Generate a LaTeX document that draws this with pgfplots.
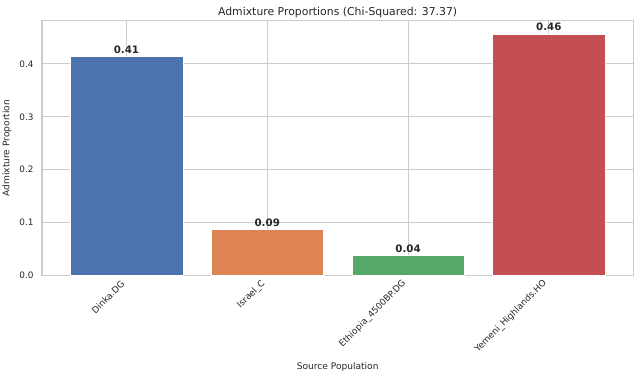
\documentclass[border=0pt]{standalone}
\usepackage{pgfplots}
\pgfplotsset{compat=1.18}
\usepackage{fontspec}
\setmainfont{DejaVu Sans}
\usetikzlibrary{calc}
\definecolor{cA}{HTML}{4C72B0}
\definecolor{cB}{HTML}{DD8452}
\definecolor{cC}{HTML}{55A868}
\definecolor{cD}{HTML}{C44E52}
\definecolor{gridc}{HTML}{CCCCCC}
\definecolor{txt}{HTML}{262626}
\begin{document}
\begin{tikzpicture}
\begin{axis}[
  scale only axis,
  width=591.3bp, height=254.8bp,
  xmin=-0.6, xmax=3.6,
  ymin=0, ymax=0.4817,
  xtick={0,1,2,3},
  xticklabels={Dinka.DG, Israel\_C, Ethiopia\_4500BP.DG, Yemeni\_Highlands.HO},
  ytick={0,0.1,0.2,0.3,0.4},
  grid=major,
  major grid style={gridc, line width=0.9bp},
  axis line style={gridc, line width=1.1bp},
  major tick length=0pt,
  tick style={draw=none},
  ticklabel style={text=txt, font=\fontsize{8.9}{10.4}\selectfont},
  /pgf/number format/assume math mode=true,
  yticklabel style={anchor=east, inner sep=0pt, xshift=-8.3bp,
    /pgf/number format/.cd, fixed, fixed zerofill, precision=1},
  xticklabel style={rotate=45, anchor=east, inner xsep=5bp, inner ysep=0pt},
  xticklabel shift=3.2bp,
  every axis title shift=0pt,
  title={Admixture Proportions (Chi-Squared: 37.37)},
  title style={at={(axis description cs:0.5,1)}, anchor=base, yshift=5.4bp, text=txt, font=\fontsize{10.9}{12.6}\selectfont},
  xlabel={Source Population},
  xlabel style={at={(axis description cs:0.5,-0.3697)}, anchor=base, text=txt, font=\fontsize{9.1}{10.7}\selectfont},
  ylabel={Admixture Proportion},
  ylabel style={at={(axis description cs:-0.055,0.5)}, anchor=base, rotate=0, text=txt, font=\fontsize{9.1}{10.7}\selectfont},
  ybar, bar width=0.8, bar shift=0pt,
  nodes near coords={\pgfmathprintnumber[fixed,fixed zerofill,precision=2,assume math mode=true]{\pgfplotspointmeta}},
  nodes near coords style={anchor=base, inner sep=0pt, yshift=3.3bp, text=txt, font=\bfseries\fontsize{10.3}{12}\selectfont},
]
\addplot[fill=cA, draw=white, line width=0.4bp] coordinates {(0,0.414)};
\addplot[fill=cB, draw=white, line width=0.4bp] coordinates {(1,0.0866)};
\addplot[fill=cC, draw=white, line width=0.4bp] coordinates {(2,0.038)};
\addplot[fill=cD, draw=white, line width=0.4bp] coordinates {(3,0.4565)};
\end{axis}
\pgfresetboundingbox
\path[use as bounding box] ($(current axis.south west)+(-42bp,-103.5bp)$) rectangle ($(current axis.north east)+(6.7bp,20.7bp)$);
\end{tikzpicture}
\end{document}
